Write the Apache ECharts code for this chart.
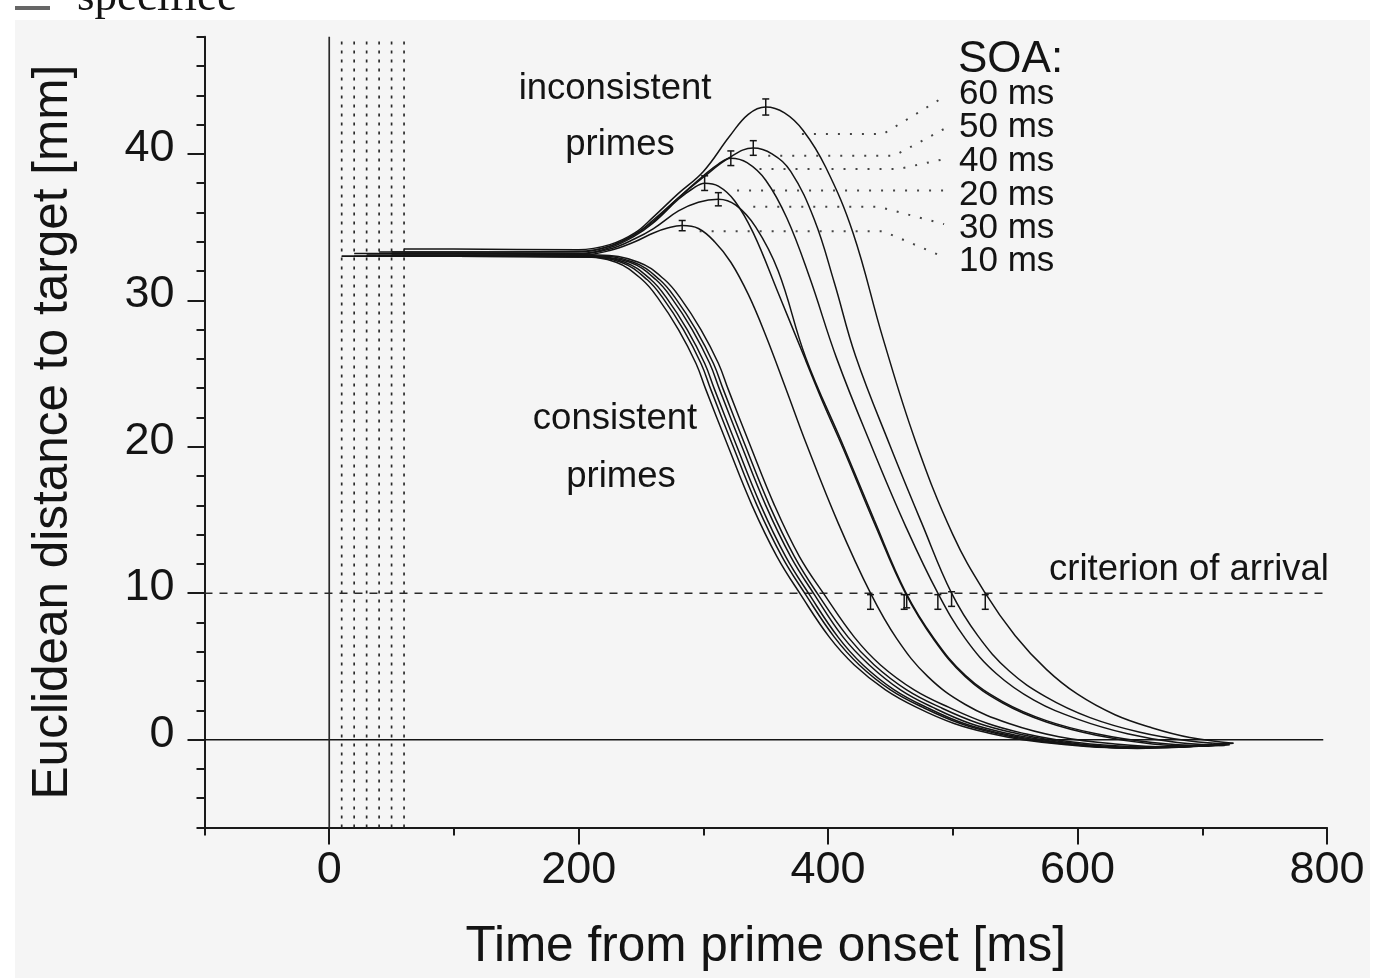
<!DOCTYPE html>
<html>
<head>
<meta charset="utf-8">
<title>Euclidean distance to target</title>
<script src="https://cdn.jsdelivr.net/npm/echarts@6/dist/echarts.min.js"></script>
<style>
  html, body { margin: 0; padding: 0; background: #ffffff; }
  #chart { width: 1378px; height: 978px; }
</style>
</head>
<body>
<div id="chart"></div>
<script>
// axis ranges and tick labels
const xRange = [-100, 800];
const yRange = [-6, 48];
const xTickLabels = [0, 200, 400, 600, 800];
const yTickLabels = [0, 10, 20, 30, 40];

// SOA conditions (ms) - the dotted onset lines
const soaValues = [10, 20, 30, 40, 50, 60];

// inconsistent primes, [time ms, distance mm]
const incons10 = [[10,33.0],[100,33.0],[200,33.05],[225,33.4],[245,34.0],[260,34.6],[272,34.95],[283,35.1],[296,34.9],[309,34.0],[322,32.6],[336,30.4],[350,27.6],[366,24.0],[383,20.1],[408,14.8],[434,10.0],[455,6.9],[480,4.3],[510,2.4],[545,1.1],[585,0.2],[630,-0.3],[675,-0.5],[715,-0.3]];
const incons20 = [[20,33.2],[100,33.2],[200,33.2],[225,33.6],[245,34.4],[260,35.3],[280,36.9],[291,37.6],[301,38.0],[312,37.8],[325,36.8],[340,34.6],[360,30.5],[382,25.9],[397,22.8],[412,19.9],[437,14.8],[462,10.0],[485,6.8],[510,4.3],[540,2.5],[575,1.2],[615,0.3],[660,-0.3],[700,-0.45],[722,-0.35]];
const incons30 = [[30,33.1],[100,33.1],[200,33.15],[225,33.5],[245,34.2],[260,34.9],[280,36.1],[296,36.7],[312,36.9],[326,36.5],[342,35.0],[360,32.0],[382,26.1],[412,20.1],[437,15.0],[462,10.1],[485,6.9],[510,4.4],[540,2.6],[575,1.3],[615,0.4],[660,-0.2],[700,-0.4],[720,-0.3]];
const incons40 = [[40,33.3],[100,33.3],[200,33.3],[225,33.7],[245,34.5],[260,35.4],[280,37.0],[300,38.5],[312,39.3],[322,39.7],[335,39.4],[350,38.2],[367,35.6],[385,31.6],[407,26.0],[435,20.0],[462,14.6],[488,10.0],[510,6.9],[535,4.5],[565,2.7],[600,1.4],[640,0.4],[680,-0.2],[718,-0.4]];
const incons50 = [[50,33.3],[100,33.3],[200,33.35],[225,33.7],[245,34.5],[260,35.5],[280,37.0],[300,38.4],[320,39.7],[340,40.4],[355,40.0],[370,38.8],[389,35.5],[405,31.2],[422,26.2],[450,20.0],[475,14.8],[499,10.0],[520,7.1],[545,4.7],[575,2.9],[610,1.5],[650,0.5],[690,-0.1],[722,-0.3]];
const incons60 = [[60,33.5],[100,33.5],[200,33.45],[225,33.8],[245,34.6],[260,35.7],[280,37.3],[300,38.8],[321,41.2],[336,42.7],[350,43.2],[365,42.8],[380,41.6],[398,39.1],[420,34.6],[444,27.4],[470,20.4],[500,14.0],[526,10.0],[550,7.1],[575,4.8],[600,3.1],[630,1.7],[660,0.8],[690,0.15],[725,-0.25]];

// consistent primes
const cons10 = [[10,33.0],[100,33.0],[202,32.95],[230,32.6],[251,31.4],[264,30.1],[280,28.0],[294,25.7],[302,23.9],[319,20.2],[339,16.0],[359,12.5],[378,9.9],[401,7.0],[421,5.1],[446,3.4],[471,2.2],[501,1.1],[531,0.4],[556,0.0],[591,-0.35],[631,-0.55],[671,-0.5],[703,-0.35]];
const cons20 = [[20,33.0],[100,33.0],[205,32.95],[234,32.6],[255,31.4],[268,30.1],[284,28.0],[298,25.7],[306,23.9],[323,20.2],[343,16.0],[363,12.5],[382,9.9],[405,7.0],[425,5.1],[450,3.4],[476,2.2],[506,1.1],[536,0.4],[561,0.0],[596,-0.35],[636,-0.55],[676,-0.5],[708,-0.3]];
const cons30 = [[30,33.05],[100,33.05],[207,33.0],[237,32.6],[258,31.4],[271,30.1],[287,28.0],[301,25.7],[309,23.9],[326,20.2],[346,16.0],[366,12.5],[385,9.9],[408,7.0],[428,5.1],[453,3.4],[479,2.2],[509,1.1],[540,0.4],[566,0.0],[602,-0.38],[642,-0.58],[682,-0.5],[712,-0.35]];
const cons40 = [[40,33.0],[100,33.0],[210,32.95],[241,32.6],[262,31.4],[275,30.1],[291,28.0],[305,25.7],[313,23.9],[330,20.2],[350,16.0],[370,12.5],[389,9.9],[412,7.0],[433,5.1],[458,3.4],[484,2.2],[514,1.1],[545,0.4],[571,0.0],[607,-0.4],[648,-0.6],[688,-0.5],[716,-0.35]];
const cons50 = [[50,33.1],[100,33.1],[212,33.05],[244,32.6],[265,31.4],[278,30.1],[294,28.0],[308,25.7],[316,23.9],[333,20.2],[353,16.0],[373,12.5],[392,9.9],[416,7.0],[437,5.1],[463,3.4],[490,2.2],[521,1.1],[552,0.4],[577,0.0],[612,-0.38],[653,-0.55],[693,-0.45],[720,-0.3]];
const cons60 = [[60,33.2],[100,33.2],[215,33.1],[248,32.6],[269,31.4],[282,30.1],[298,28.0],[312,25.7],[320,23.9],[337,20.2],[357,16.0],[377,12.5],[397,9.9],[421,7.0],[442,5.1],[469,3.4],[497,2.2],[528,1.1],[558,0.4],[583,0.0],[618,-0.35],[660,-0.52],[700,-0.4],[725,-0.25]];

// error bars [time, distance, half length]
const peakBars = [[350,43.2,0.55],[340,40.4,0.5],[322,39.7,0.5],[301,38.0,0.5],[312,36.9,0.45],[283,35.1,0.35]];
const arrivalBars = [[434,9.4,0.5],[461,9.4,0.5],[463,9.45,0.45],[488,9.4,0.5],[499,9.6,0.5],[526,9.4,0.5]];

// reference lines
const criterion = 10;
const refLineEnd = 797;

// dotted leaders from the peaks to the SOA labels
const soaLabels = ['60 ms', '50 ms', '40 ms', '20 ms', '30 ms', '10 ms'];
const leaders = [
  [[379,41.35],[444,41.35],[493,43.9]],
  [[352,39.87],[453,39.87],[493,41.7]],
  [[345,38.96],[456,38.96],[493,39.64]],
  [[327,37.5],[493,37.5]],
  [[340,36.38],[441,36.38],[493,35.2]],
  [[297,34.72],[444,34.72],[493,32.95]]
];

const ink = '#141414';
const font = '"Liberation Sans", Arial, sans-serif';

const chart = echarts.init(document.getElementById('chart'), null, { renderer: 'canvas' });

const curveSeries = [incons10, incons20, incons30, incons40, incons50, incons60,
                     cons10, cons20, cons30, cons40, cons50, cons60].map((d, i) => ({
  name: 'curve' + i,
  type: 'line',
  data: d,
  smooth: 0.4,
  showSymbol: false,
  silent: true,
  lineStyle: { color: ink, width: 1.5 },
  z: 5
}));

function errorBarSeries(data) {
  return {
    type: 'custom',
    data: data,
    encode: { x: 0, y: 1 },
    silent: true,
    z: 6,
    renderItem: function (params, api) {
      const x = api.value(0), y = api.value(1), e = api.value(2);
      const top = api.coord([x, y + e]);
      const bot = api.coord([x, y - e]);
      const w = 3.5;
      const st = { stroke: ink, lineWidth: 1.5 };
      return {
        type: 'group',
        children: [
          { type: 'line', shape: { x1: top[0], y1: top[1], x2: bot[0], y2: bot[1] }, style: st },
          { type: 'line', shape: { x1: top[0] - w, y1: top[1], x2: top[0] + w, y2: top[1] }, style: st },
          { type: 'line', shape: { x1: bot[0] - w, y1: bot[1], x2: bot[0] + w, y2: bot[1] }, style: st }
        ]
      };
    }
  };
}

const refSeries = [
  {
    type: 'line', silent: true, showSymbol: false, z: 3,
    data: [[xRange[0], 0], [refLineEnd, 0]],
    lineStyle: { color: ink, width: 1.5 }
  },
  {
    type: 'line', silent: true, showSymbol: false, z: 3,
    data: [[xRange[0], criterion], [refLineEnd, criterion]],
    lineStyle: { color: '#2a2a2a', width: 1.5, type: [8, 7] }
  },
  {
    type: 'line', silent: true, showSymbol: false, z: 3,
    data: [[0, yRange[0]], [0, yRange[1]]],
    lineStyle: { color: '#2a2a2a', width: 1.7 }
  }
].concat(soaValues.map(s => ({
  type: 'line', silent: true, showSymbol: false, z: 3,
  data: [[s, yRange[0]], [s, yRange[1]]],
  lineStyle: { color: '#2a2a2a', width: 1.7, type: [3, 6] }
}))).concat(leaders.map(pts => ({
  type: 'line', silent: true, showSymbol: false, z: 3,
  data: pts,
  lineStyle: { color: '#444', width: 2, type: [2, 10] }
})));

function txt(x, y, text, size, align, family) {
  return {
    type: 'text', x: x, y: y, silent: true, z: 10,
    style: {
      text: text, fill: ink,
      fontSize: size, fontFamily: family || font,
      align: align || 'left', verticalAlign: 'middle'
    }
  };
}

const soaLabelY = [94.5, 127.5, 161, 195, 228, 261];

const graphics = [
  { type: 'rect', silent: true, z: 0, shape: { x: 0, y: 0, width: 1378, height: 20 }, style: { fill: '#ffffff' } },
  { type: 'rect', silent: true, z: 0, shape: { x: 0, y: 0, width: 15, height: 978 }, style: { fill: '#ffffff' } },
  { type: 'rect', silent: true, z: 0, shape: { x: 1370, y: 0, width: 8, height: 978 }, style: { fill: '#ffffff' } },
  { type: 'rect', silent: true, z: 1, shape: { x: 15, y: 6, width: 35, height: 4 }, style: { fill: '#666' } },
  txt(77, -2, 'specifiee', 45, 'left', '"Liberation Serif", "Times New Roman", serif'),
  txt(958, 60, 'SOA:', 44),
  txt(615, 89, 'inconsistent', 36.5, 'center'),
  txt(620, 145, 'primes', 36.5, 'center'),
  txt(615, 419, 'consistent', 36.5, 'center'),
  txt(621, 477, 'primes', 36.5, 'center'),
  txt(1049, 570, 'criterion of arrival', 36.5)
].concat(soaLabels.map((s, i) => txt(959, soaLabelY[i], s, 35)));

const axisLineStyle = { color: '#1a1a1a', width: 2 };

const option = {
  animation: false,
  backgroundColor: '#f5f5f5',
  textStyle: { fontFamily: font },
  grid: {
    left: 204.5, right: 51, top: 36.7, bottom: 150.5,
    containLabel: false, outerBoundsMode: 'none'
  },
  xAxis: [
    {
      type: 'value', position: 'bottom',
      min: xRange[0], max: xRange[1], interval: 100,
      name: 'Time from prime onset [ms]',
      nameLocation: 'middle', nameGap: 95,
      nameTextStyle: { fontSize: 49.5, color: ink, fontFamily: font },
      axisLine: { show: true, onZero: false, lineStyle: axisLineStyle },
      axisTick: { show: true, length: 17, customValues: xTickLabels, lineStyle: axisLineStyle },
      axisLabel: { show: true, customValues: xTickLabels, margin: 21, fontSize: 45, color: ink, fontFamily: font },
      splitLine: { show: false }
    },
    {
      type: 'value', position: 'bottom',
      min: xRange[0], max: xRange[1], interval: 100,
      axisLine: { show: false, onZero: false },
      axisTick: { show: true, length: 8, lineStyle: axisLineStyle },
      axisLabel: { show: false },
      splitLine: { show: false }
    }
  ],
  yAxis: [
    {
      type: 'value', position: 'left',
      min: yRange[0], max: yRange[1], interval: 2,
      name: 'Euclidean distance to target [mm]',
      nameLocation: 'middle', nameGap: 126,
      nameTextStyle: { fontSize: 49.5, color: ink, fontFamily: font },
      axisLine: { show: true, onZero: false, lineStyle: axisLineStyle },
      axisTick: { show: true, length: 17, customValues: yTickLabels, lineStyle: axisLineStyle },
      axisLabel: { show: true, customValues: yTickLabels, margin: 30, fontSize: 45, color: ink, fontFamily: font, verticalAlign: 'bottom', lineHeight: 11 },
      splitLine: { show: false }
    },
    {
      type: 'value', position: 'left',
      min: yRange[0], max: yRange[1], interval: 2,
      axisLine: { show: false, onZero: false },
      axisTick: { show: true, length: 8, lineStyle: axisLineStyle },
      axisLabel: { show: false },
      splitLine: { show: false }
    }
  ],
  graphic: graphics,
  series: refSeries.concat(curveSeries, [errorBarSeries(peakBars), errorBarSeries(arrivalBars)])
};

chart.setOption(option);
</script>
</body>
</html>
